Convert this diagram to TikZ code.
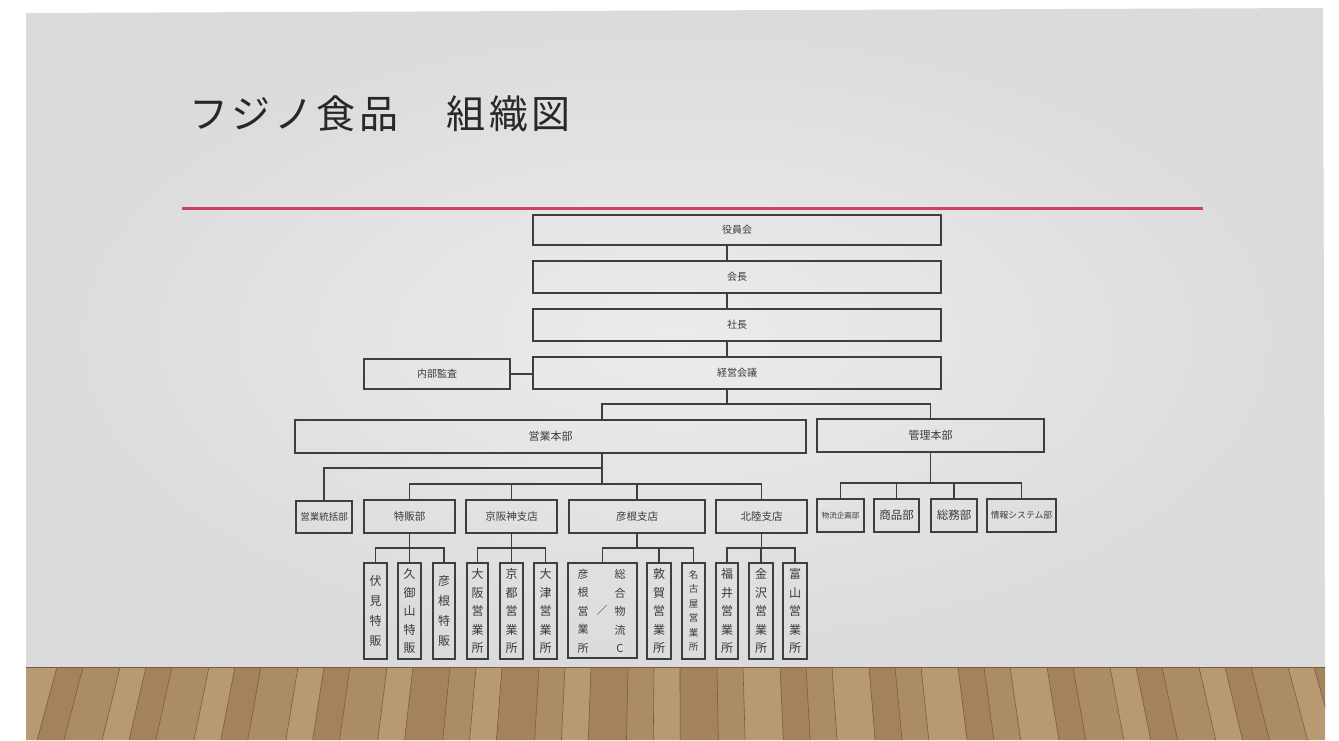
\documentclass[tikz,border=0pt]{standalone}
\usepackage{fontspec}
\setmainfont{Noto Sans CJK JP}
\usetikzlibrary{calc}
\definecolor{wallin}{RGB}{236,236,236}
\definecolor{wallout}{RGB}{219,219,220}
\definecolor{redline}{RGB}{204,66,98}
\definecolor{linec}{RGB}{62,62,62}
\definecolor{txt}{RGB}{58,58,58}
\definecolor{ttl}{RGB}{40,40,40}
\definecolor{wood0}{RGB}{184,154,114}
\definecolor{wood1}{RGB}{172,140,100}
\definecolor{wood2}{RGB}{198,174,136}
\definecolor{wood3}{RGB}{164,130,92}
\definecolor{wood4}{RGB}{190,162,122}
\definecolor{seam}{RGB}{120,92,62}
\tikzset{
  box/.style={draw=linec, line width=1.1pt, inner sep=0pt, text=txt,
    font=\fontsize{10}{12}\selectfont},
  vbox/.style={box, align=center, minimum height=96pt,
    font=\fontsize{12}{18.5}\selectfont},
  conn/.style={draw=linec, line width=1.1pt},
  vtxt/.style={inner sep=0pt, text=txt, align=center, font=\fontsize{11}{18.5}\selectfont}
}
\begin{document}
\begin{tikzpicture}[x=1pt,y=-1pt]
\useasboundingbox[fill=white] (0,0) rectangle (1339,740);
% wall
\shade[inner color=wallin, outer color=wallout] (26,13) -- (1323,8) -- (1325,667) -- (26,667) -- cycle;
% floor
\begin{scope}
\clip (26,667) rectangle (1325,740);
\fill[wood0] (26,667) rectangle (1325,740);
\foreach \i in {0,...,44} {
  \pgfmathsetmacro\xa{20+\i*30+mod(\i*7,11)}
  \pgfmathsetmacro\xb{20+(\i+1)*30+mod((\i+1)*7,11)}
  \pgfmathsetmacro\xc{676+(\xa-676)*1.032}
  \pgfmathsetmacro\xd{676+(\xb-676)*1.032}
  \pgfmathtruncatemacro\k{mod(\i*3+int(\i/3),5)}
  \fill[wood\k] (\xa,667) -- (\xb,667) -- (\xd,740) -- (\xc,740) -- cycle;
  \draw[seam, line width=0.6pt] (\xa,667) -- (\xc,740);
}
\draw[seam, line width=0.8pt] (26,667) -- (1325,667);
\end{scope}
% title and rule
\node[anchor=west, inner sep=0pt, text=ttl, font=\fontsize{39}{42}\selectfont] (title) at (189,114)
  {フ\kern3.6pt ジ\kern3.6pt ノ\kern3.6pt 食\kern3.6pt 品\kern48pt 組\kern3.6pt 織\kern3.6pt 図};
\coordinate (rl) at (182,208);
\coordinate (rr) at (1203,208);
\draw[redline, line width=3pt] (rl) -- (rr);
% top chain
\node[box, minimum width=408pt, minimum height=30pt] (yakuin) at (737,230) {役員会};
\node[box, minimum width=408pt, minimum height=32pt] (kaicho) at (737,277) {会長};
\node[box, minimum width=408pt, minimum height=32pt] (shacho) at (737,325) {社長};
\node[box, minimum width=408pt, minimum height=32pt] (keiei) at (737,373) {経営会議};
\node[box, minimum width=146pt, minimum height=30pt] (naibu) at (437,374) {内部監査};
\coordinate (spine) at (727,0);
\draw[conn] (yakuin.south -| spine) -- (kaicho.north -| spine);
\draw[conn] (kaicho.south -| spine) -- (shacho.north -| spine);
\draw[conn] (shacho.south -| spine) -- (keiei.north -| spine);
\draw[conn] (naibu.east) -- (naibu.east -| keiei.west);
% headquarters
\node[box, minimum width=511pt, minimum height=33pt, font=\fontsize{11}{13}\selectfont] (eigyo) at (550.5,436.5) {営業本部};
\node[box, minimum width=227pt, minimum height=33pt, font=\fontsize{11}{13}\selectfont] (kanri) at (930.5,435.5) {管理本部};
\coordinate (j1) at (727,404);
\coordinate (e1) at (602,0);
\draw[conn] (keiei.south -| j1) -- (j1);
\draw[conn] (eigyo.north -| e1) |- (j1) -| (kanri.north);
% sales departments
\node[box, minimum width=56pt, minimum height=32pt, font=\fontsize{9.5}{11}\selectfont] (toukatsu) at (324,517) {営業統括部};
\node[box, minimum width=91pt, minimum height=33pt, font=\fontsize{10.5}{12}\selectfont] (tokuhan) at (409.5,516.5) {特販部};
\node[box, minimum width=91pt, minimum height=33pt, font=\fontsize{10.5}{12}\selectfont] (keihanshin) at (511.5,516.5) {京阪神支店};
\node[box, minimum width=136pt, minimum height=33pt, font=\fontsize{10.5}{12}\selectfont] (hikone) at (637,516.5) {彦根支店};
\node[box, minimum width=91pt, minimum height=33pt, font=\fontsize{10.5}{12}\selectfont] (hokuriku) at (761.5,516.5) {北陸支店};
\coordinate (j2) at (602,484);
\coordinate (j2a) at (602,468);
\draw[conn] (eigyo.south -| j2) -- (j2);
\draw[conn] (j2a) -| (toukatsu.north);
\draw[conn] (tokuhan.north) |- (hokuriku.north |- j2) -- (hokuriku.north);
\draw[conn] (keihanshin.north) -- (keihanshin.north |- j2);
\draw[conn] (hikone.north) -- (hikone.north |- j2);
% admin departments
\node[box, minimum width=47pt, minimum height=33pt, font=\fontsize{7.5}{9}\selectfont] (butsuryu) at (840.5,515.5) {物流企画部};
\node[box, minimum width=45pt, minimum height=33pt, font=\fontsize{11.5}{13}\selectfont] (shohin) at (896.5,515.5) {商品部};
\node[box, minimum width=46pt, minimum height=33pt, font=\fontsize{11.5}{13}\selectfont] (somu) at (954,515.5) {総務部};
\node[box, minimum width=69pt, minimum height=33pt, font=\fontsize{8.8}{10}\selectfont] (jouhou) at (1021.5,515.5) {情報システム部};
\coordinate (j3) at (931,483);
\draw[conn] (kanri.south) -- (kanri.south |- j3);
\draw[conn] (butsuryu.north) |- (jouhou.north |- j3) -- (jouhou.north);
\draw[conn] (shohin.north) -- (shohin.north |- j3);
\draw[conn] (somu.north) -- (somu.north |- j3);
% level 4
\coordinate (b4) at (0,548);
\node[vbox, minimum width=23pt, font=\fontsize{12}{20}\selectfont] (fushimi) at (375.5,611) {伏\\見\\特\\販};
\node[vbox, minimum width=23pt] (kumiyama) at (409.5,611) {久\\御\\山\\特\\販};
\node[vbox, minimum width=22pt, font=\fontsize{12}{20}\selectfont] (hikonetoku) at (444,611) {彦\\根\\特\\販};
\node[vbox, minimum width=21pt] (osaka) at (477.5,611) {大\\阪\\営\\業\\所};
\node[vbox, minimum width=23pt] (kyoto) at (511.5,611) {京\\都\\営\\業\\所};
\node[vbox, minimum width=23pt] (otsu) at (545.5,611) {大\\津\\営\\業\\所};
\node[box, minimum width=69pt, minimum height=95pt] (hikoneei) at (602.5,610.5) {};
\node[vtxt] (hk1) at (583,611) {彦\\根\\営\\業\\所};
\node[vtxt] (hk2) at (620,611) {総\\合\\物\\流\\C};
\node[vtxt] (hk3) at (602,610) {／};
\node[vbox, minimum width=24pt] (tsuruga) at (659,611) {敦\\賀\\営\\業\\所};
\node[vbox, minimum width=23pt, font=\fontsize{9.5}{14.5}\selectfont] (nagoya) at (693.5,611) {名\\古\\屋\\営\\業\\所};
\node[vbox, minimum width=22pt] (fukui) at (727,611) {福\\井\\営\\業\\所};
\node[vbox, minimum width=24pt] (kanazawa) at (761,611) {金\\沢\\営\\業\\所};
\node[vbox, minimum width=24pt] (toyama) at (795,611) {富\\山\\営\\業\\所};
% tokuhan group
\draw[conn] (tokuhan.south) -- (kumiyama.north);
\draw[conn] (fushimi.north) |- (hikonetoku.north |- b4) -- (hikonetoku.north);
% keihanshin group
\draw[conn] (keihanshin.south) -- (kyoto.north);
\draw[conn] (osaka.north) |- (otsu.north |- b4) -- (otsu.north);
% hikone group
\draw[conn] (hikone.south) -- (hikone.south |- b4);
\draw[conn] (hikoneei.north) |- (nagoya.north |- b4) -- (nagoya.north);
\draw[conn] (tsuruga.north) -- (tsuruga.north |- b4);
% hokuriku group
\draw[conn] (hokuriku.south) -- (hokuriku.south |- b4);
\draw[conn] (fukui.north) |- (toyama.north |- b4) -- (toyama.north);
\draw[conn] (kanazawa.north) -- (kanazawa.north |- b4);
\end{tikzpicture}
\end{document}
